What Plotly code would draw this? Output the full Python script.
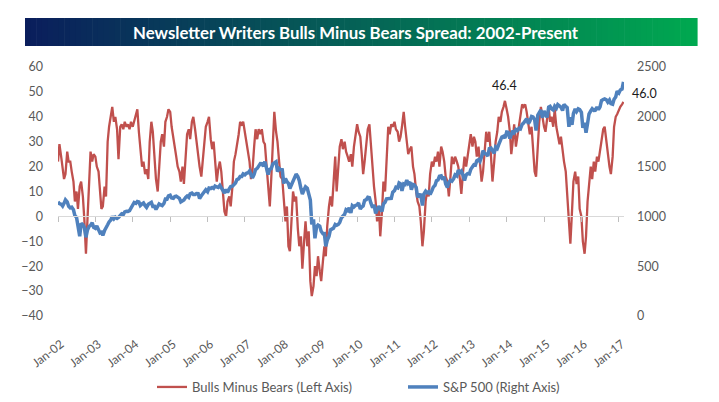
import pandas as pd
import plotly.graph_objects as go

# semi-monthly readings, 1st and 15th of each month, Jan 2002 - Feb 2017
bulls_minus_bears = [
    22, 29, 24, 20, 15, 17, 26, 22, 22, 18, 14, 6, 10, 3, 12, 14, 8, -1, -15, -2, 15, 26, 22, 25,            # 2002
    24, 20, 18, 8, 3, 4, 12, 8, 30, 36, 40, 44, 38, 40, 35, 23, 36, 37, 35, 38, 36, 37, 35, 38,              # 2003
    36, 38, 40, 43, 34, 26, 20, 22, 17, 19, 15, 30, 38, 34, 25, 15, 10, 20, 30, 33, 28, 38, 40, 43,          # 2004
    42, 36, 32, 28, 24, 20, 18, 14, 20, 13, 24, 33, 35, 31, 38, 40, 35, 30, 26, 20, 16, 22, 30, 36,          # 2005
    38, 40, 31, 27, 30, 24, 14, 19, 22, 18, 8, 2, 0, 6, 8, 4, 12, 22, 25, 28, 33, 38, 37, 38,                # 2006
    34, 30, 27, 22, 15, 18, 28, 35, 31, 35, 33, 35, 30, 29, 20, 13, 4, 15, 32, 42, 34, 30, 22, 16,           # 2007
    15, 8, -2, 4, -12, -14, -2, 10, 6, 8, -5, -12, -8, -21, -10, -2, -12, -6, -26, -32, -28, -20, -24, -16,  # 2008
    -22, -26, -18, -12, -16, -4, 4, 8, 4, 14, 24, 10, 20, 28, 31, 27, 30, 26, 24, 22, 25, 20, 28, 33,        # 2009
    37, 34, 32, 25, 17, 22, 30, 35, 37, 28, 17, 12, 6, -2, 4, -8, 2, 14, 10, 22, 36, 33, 37, 36,             # 2010
    38, 35, 34, 30, 32, 36, 42, 36, 29, 25, 27, 28, 20, 17, 10, 6, 4, -2, -12, -6, 6, 10, 8, 17,             # 2011
    22, 20, 24, 22, 26, 20, 28, 26, 22, 16, 14, 8, 16, 24, 21, 24, 22, 20, 15, 9, 18, 24, 20, 24,            # 2012
    30, 33, 28, 32, 30, 24, 28, 20, 14, 18, 28, 34, 30, 34, 24, 14, 22, 30, 34, 40, 38, 42, 44, 46.4,        # 2013
    43, 40, 34, 25, 30, 37, 28, 32, 38, 42, 45, 44, 45, 42, 37, 33, 36, 26, 18, 16, 30, 38, 44, 40,          # 2014
    36, 34, 40, 44, 38, 40, 36, 43, 36, 32, 29, 32, 26, 22, 18, 8, -4, -11, 2, 14, 18, 13, 16, 3,            # 2015
    0, -10, -15, -8, 6, 14, 20, 15, 22, 18, 24, 22, 27, 32, 35, 36, 30, 24, 20, 17, 24, 36, 40, 41,          # 2016
    43, 44, 45, 46.0,                                                                                        # 2017
]

sp500 = [
    1148, 1128, 1122, 1104, 1131, 1166, 1146, 1102, 1086, 1092, 1067, 1007, 990, 880, 800, 930, 916, 890, 790, 860, 900, 910, 936, 890,
    880, 905, 855, 834, 841, 810, 858, 880, 916, 945, 964, 1000, 975, 993, 980, 990, 1008, 1025, 1018, 1045, 1051, 1050, 1058, 1080,
    1112, 1140, 1131, 1150, 1145, 1110, 1126, 1135, 1107, 1090, 1121, 1132, 1141, 1101, 1102, 1070, 1104, 1125, 1115, 1108, 1130, 1175, 1174, 1205,
    1212, 1185, 1181, 1200, 1204, 1195, 1181, 1145, 1157, 1165, 1192, 1205, 1191, 1227, 1234, 1220, 1220, 1230, 1229, 1180, 1207, 1230, 1249, 1267,
    1248, 1285, 1280, 1290, 1281, 1305, 1295, 1290, 1311, 1290, 1270, 1235, 1270, 1240, 1277, 1300, 1304, 1320, 1336, 1370, 1378, 1400, 1401, 1427,
    1418, 1432, 1438, 1456, 1407, 1386, 1421, 1470, 1482, 1510, 1531, 1530, 1503, 1550, 1455, 1420, 1474, 1480, 1527, 1540, 1549, 1450, 1481, 1470,
    1468, 1330, 1379, 1350, 1331, 1280, 1323, 1365, 1386, 1425, 1400, 1360, 1280, 1225, 1267, 1298, 1283, 1213, 1165, 920, 969, 780, 896, 913,
    903, 850, 826, 827, 700, 760, 798, 865, 873, 882, 919, 911, 919, 940, 987, 1004, 1021, 1068, 1057, 1087, 1036, 1109, 1096, 1110,
    1115, 1136, 1074, 1094, 1104, 1160, 1169, 1192, 1187, 1135, 1089, 1115, 1031, 1065, 1102, 1080, 1049, 1125, 1141, 1176, 1183, 1180, 1181, 1243,
    1258, 1293, 1286, 1336, 1327, 1257, 1326, 1320, 1364, 1330, 1345, 1268, 1321, 1316, 1292, 1192, 1219, 1216, 1110, 1225, 1253, 1237, 1247, 1220,
    1258, 1294, 1312, 1358, 1366, 1404, 1408, 1370, 1398, 1325, 1290, 1342, 1362, 1353, 1379, 1418, 1407, 1465, 1441, 1455, 1412, 1360, 1416, 1430,
    1426, 1472, 1498, 1519, 1515, 1560, 1569, 1553, 1598, 1660, 1631, 1626, 1606, 1680, 1686, 1655, 1633, 1697, 1682, 1721, 1757, 1798, 1806, 1786,
    1848, 1845, 1783, 1838, 1859, 1841, 1872, 1862, 1884, 1878, 1924, 1937, 1960, 1981, 1931, 1955, 2003, 1998, 1972, 1862, 2018, 2039, 2068, 1990,
    2059, 2019, 1995, 2097, 2105, 2081, 2068, 2106, 2086, 2122, 2107, 2096, 2063, 2124, 2104, 2092, 1900, 1995, 1920, 2033, 2079, 2053, 2080, 2073,
    2044, 1890, 1940, 1840, 1932, 2027, 2060, 2081, 2065, 2066, 2097, 2071, 2099, 2162, 2174, 2180, 2171, 2147, 2168, 2133, 2126, 2177, 2199, 2258,
    2239, 2270, 2279, 2350,
]

dates = pd.date_range("2002-01-01", periods=len(bulls_minus_bears), freq="SMS")

RED = "#C0504D"
BLUE = "#4F81BD"
GREY = "#595959"
FONT = "Lato"

# plot area in pixels (for placing decorations in paper coords)
L, R, T, B = 58, 624, 67, 316
def px(x):
    return (x - L) / (R - L)
def py(y):
    return (B - y) / (B - T)

fig = go.Figure()
fig.add_trace(go.Scatter(x=dates, y=bulls_minus_bears, mode="lines",
                         name="Bulls Minus Bears (Left Axis)",
                         line=dict(color=RED, width=2.3)))
fig.add_trace(go.Scatter(x=dates, y=sp500, mode="lines", yaxis="y2",
                         name="S&P 500 (Right Axis)",
                         line=dict(color=BLUE, width=3.5)))
# empty trace so the zero-crossing category axis (x2) gets drawn
fig.add_trace(go.Scatter(x=[], y=[], xaxis="x2", yaxis="y", showlegend=False,
                         hoverinfo="skip"))

xrange = ["2002-01-01", "2017-02-20"]

# gradient title bar, built from thin slices
shapes = []
c0 = (10, 30, 92)
c1 = (0, 168, 80)
n = 120
x0, x1 = 25, 697
for i in range(n):
    f = i / (n - 1)
    col = "rgb(%d,%d,%d)" % tuple(round(a + (b - a) * f) for a, b in zip(c0, c1))
    xa = x0 + (x1 - x0) * i / n
    xb = x0 + (x1 - x0) * (i + 1) / n + 0.6
    shapes.append(dict(type="rect", xref="paper", yref="paper",
                       x0=px(xa), x1=px(xb), y0=py(46), y1=py(18),
                       fillcolor=col, line=dict(width=0), layer="below"))
# dark strip at the bottom edge
shapes.append(dict(type="rect", xref="paper", yref="paper",
                   x0=px(265), x1=px(504), y0=py(402), y1=py(396),
                   fillcolor="#222222", line=dict(width=0), layer="below"))

peak = max(range(2 * 24 * 5, len(bulls_minus_bears) - 4), key=lambda i: bulls_minus_bears[i])

fig.update_layout(
    width=719, height=402,
    margin=dict(l=L, r=719 - R, t=T, b=402 - B, autoexpand=False),
    paper_bgcolor="white", plot_bgcolor="white",
    font=dict(family=FONT, size=12, color=GREY),
    showlegend=True,
    legend=dict(orientation="h", x=px(152), xanchor="left", y=py(387), yanchor="middle",
                font=dict(size=13, color=GREY), itemwidth=30, traceorder="normal",
                entrywidth=206, entrywidthmode="pixels"),
    xaxis=dict(type="date", range=xrange, showgrid=False, showline=False, zeroline=False,
               tick0="2002-01-01", dtick="M12", tickformat="%b-%y", tickangle=-38,
               tickfont=dict(size=12, color=GREY), ticks="", ticklabelstandoff=18,
               ticklabelshift=3),
    xaxis2=dict(type="date", range=xrange, overlaying="x", anchor="free", position=0.4,
                showgrid=False, showline=True, linecolor="#d9d9d9", linewidth=1,
                tick0="2002-01-01", dtick="M12", ticks="outside", ticklen=5,
                tickcolor="#bfbfbf", showticklabels=False, zeroline=False),
    yaxis=dict(range=[-40, 60], dtick=10, showgrid=False, zeroline=False, showline=False,
               tickfont=dict(size=12.5, color=GREY), ticklabelstandoff=14),
    yaxis2=dict(range=[0, 2500], dtick=500, overlaying="y", side="right",
                showgrid=False, zeroline=False, showline=False,
                tickfont=dict(size=12.5, color=GREY), ticklabelstandoff=12),
    shapes=shapes,
    annotations=[
        dict(text="<b>Newsletter Writers Bulls Minus Bears Spread: 2002-Present</b>",
             xref="paper", yref="paper", x=px(356), y=py(32), showarrow=False,
             font=dict(family=FONT, size=16.8, color="white"), xanchor="center", yanchor="middle"),
        dict(text="46.4", x=dates[peak], y=bulls_minus_bears[peak], xref="x", yref="y",
             showarrow=False, yanchor="bottom", yshift=6,
             font=dict(family=FONT, size=12.5, color="#1a1a1a")),
        dict(text="%.1f" % bulls_minus_bears[-1], x=dates[-1], y=bulls_minus_bears[-1],
             xref="x", yref="y", showarrow=False, xanchor="left", xshift=7, yshift=8,
             font=dict(family=FONT, size=12.5, color="#1a1a1a")),
    ],
)

# the page's default body margin would push the chart off by 8px
fig.write_html("out.html", config={"displayModeBar": False},
               post_script="document.body.style.margin='0';")
